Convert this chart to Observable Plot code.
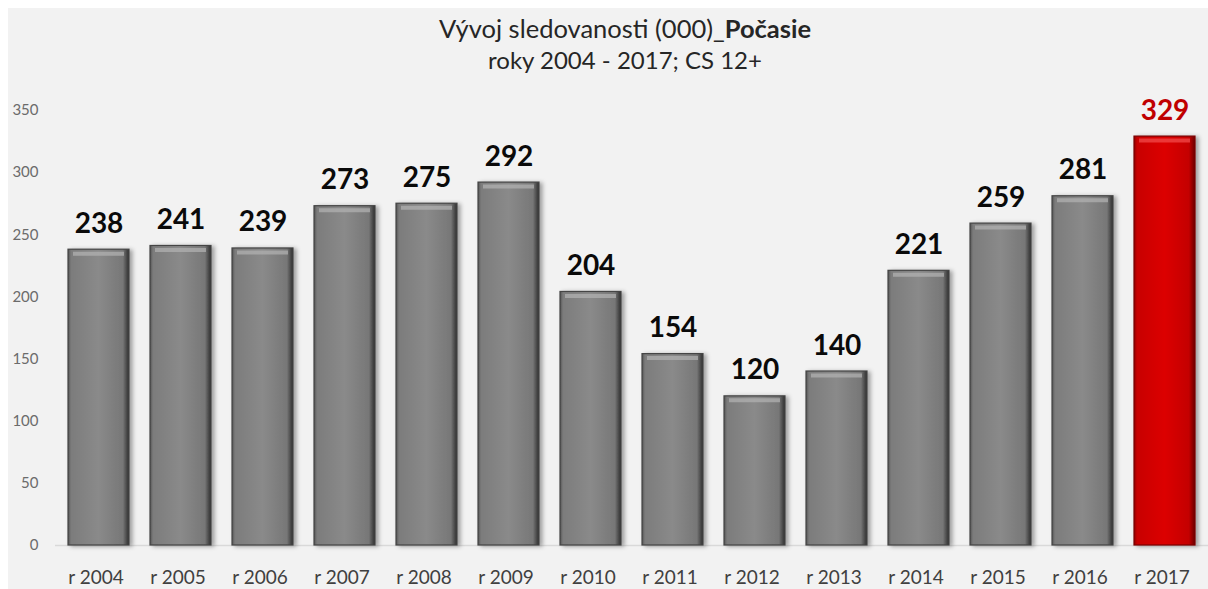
<!DOCTYPE html>
<html>
<head>
<meta charset="utf-8">
<script src="https://cdn.jsdelivr.net/npm/d3@7"></script>
<script src="https://cdn.jsdelivr.net/npm/@observablehq/plot@0.6"></script>
<style>
  html, body { margin: 0; padding: 0; background: #ffffff; }
  #wrap { position: relative; width: 1208px; height: 589px; overflow: hidden; font-family: Lato, "Open Sans", sans-serif; }
  #bg { position: absolute; left: 8px; top: 8px; right: 0; bottom: 0; background: #f2f2f2; }
  #title { position: absolute; left: 0; width: 1250px; top: 12px; text-align: center; font-size: 25.5px; color: #262626; line-height: 32px; }
  #subtitle { position: absolute; left: 0; width: 1250px; top: 44px; text-align: center; font-size: 24px; color: #262626; line-height: 32px; }
  #chart { position: absolute; left: 0; top: 0; }
</style>
</head>
<body>
<div id="wrap">
  <div id="bg"></div>
  <div id="title">Vývoj sledovanosti (000)_<b>Počasie</b></div>
  <div id="subtitle">roky 2004 - 2017; CS 12+</div>
  <div id="chart"></div>
</div>
<script>
const years = ["r 2004", "r 2005", "r 2006", "r 2007", "r 2008", "r 2009", "r 2010",
               "r 2011", "r 2012", "r 2013", "r 2014", "r 2015", "r 2016", "r 2017"];
const values = [238, 241, 239, 273, 275, 292, 204, 154, 120, 140, 221, 259, 281, 329];
const yTicks = [0, 50, 100, 150, 200, 250, 300, 350];
const highlightYear = "r 2017";

const data = years.map((year, i) => ({year, value: values[i]}));
const isHi = d => d.year === highlightYear;

const chart = Plot.plot({
  width: 1208,
  height: 589,
  marginTop: 110,
  marginBottom: 44,
  marginLeft: 55,
  marginRight: 0,
  style: {background: "transparent", fontFamily: "Lato, 'Open Sans', sans-serif", overflow: "visible"},
  x: {domain: years, paddingInner: 0.26, paddingOuter: 0.13},
  y: {domain: [0, 350]},
  color: {type: "identity"},
  marks: [
    Plot.axisY({ticks: yTicks, tickSize: 0, tickPadding: 17, fontSize: 15, fill: "#6b6b6b", label: null}),
    Plot.axisX({tickSize: 0, tickPadding: 25, fontSize: 19, fill: "#404040", label: null, dx: -3}),
    Plot.ruleY([0], {stroke: "#d9d9d9", strokeWidth: 1.5}),
    Plot.barY(data.filter(d => !isHi(d)), {x: "year", y: "value", fill: "url(#gGray)", stroke: "#444444", strokeWidth: 1.2}),
    Plot.barY(data.filter(isHi), {x: "year", y: "value", fill: "url(#gRed)", stroke: "#7a0000", strokeWidth: 1.2}),
    Plot.tickY(data, {x: "year", y: "value", dy: 4, insetLeft: 5, insetRight: 5, strokeWidth: 4,
      stroke: d => isHi(d) ? "#f24a4a" : "#b0b0b0", strokeOpacity: 0.75}),
    Plot.text(data, {x: "year", y: "value", text: d => String(d.value), dy: -17, lineAnchor: "bottom",
      fontSize: 28, fontWeight: "bold", fill: d => isHi(d) ? "#c00000" : "#0a0a0a"})
  ]
});

const svg = d3.select(chart);
svg.insert("defs", ":first-child").html(`
  <linearGradient id="gGray" x1="0" x2="1" y1="0" y2="0">
    <stop offset="0%" stop-color="#555555"/>
    <stop offset="5%" stop-color="#7c7c7c"/>
    <stop offset="50%" stop-color="#8a8a8a"/>
    <stop offset="90%" stop-color="#777777"/>
    <stop offset="100%" stop-color="#2e2e2e"/>
  </linearGradient>
  <linearGradient id="gRed" x1="0" x2="1" y1="0" y2="0">
    <stop offset="0%" stop-color="#900000"/>
    <stop offset="5%" stop-color="#c80000"/>
    <stop offset="50%" stop-color="#dc0000"/>
    <stop offset="90%" stop-color="#c40000"/>
    <stop offset="100%" stop-color="#6a0000"/>
  </linearGradient>
  <filter id="shadow" x="-20%" y="-5%" width="140%" height="110%">
    <feDropShadow dx="3" dy="1" stdDeviation="2" flood-color="#000" flood-opacity="0.35"/>
  </filter>`);
svg.selectAll('g[aria-label="bar"]').attr("filter", "url(#shadow)");

document.getElementById("chart").appendChild(chart);
</script>
</body>
</html>
